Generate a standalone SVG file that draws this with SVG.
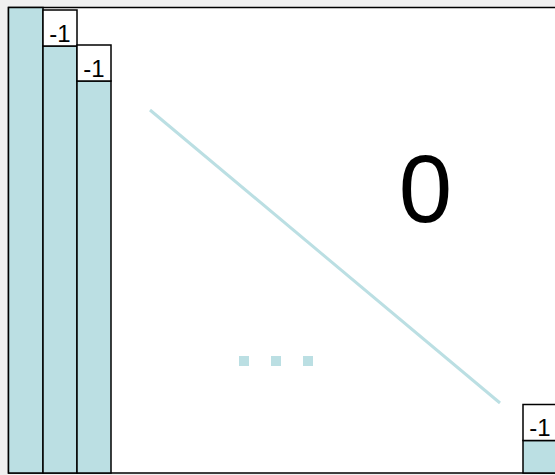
<svg xmlns="http://www.w3.org/2000/svg" width="555" height="475" viewBox="0 0 555 475">
<style>
.col{fill:#bbdfe3;stroke:#000;stroke-width:1.5}
.box{fill:#fff;stroke:#000;stroke-width:1.5}
.lbl{font-family:"Liberation Sans",Arial,sans-serif;font-size:24px;fill:#000;text-anchor:middle}
.dot{fill:#bbdfe3}
</style>
<rect x="0" y="0" width="555" height="475" fill="#f0f0f0"/>
<rect id="matrix" x="8.5" y="7.5" width="560" height="465.5" fill="#fff" stroke="#000" stroke-width="1.5"/>
<g id="col1"><rect class="col" x="8.5" y="7.5" width="34.5" height="465.5"/></g>
<g id="col2">
<rect class="col" x="43" y="46" width="34" height="427"/>
<rect class="box" x="43" y="10" width="34" height="36"/>
<text class="lbl" x="60" y="42">-1</text>
</g>
<g id="col3">
<rect class="col" x="77" y="81" width="34" height="392"/>
<rect class="box" x="77" y="45" width="34" height="36"/>
<text class="lbl" x="94" y="77">-1</text>
</g>
<g id="col4">
<rect class="col" x="523" y="440.5" width="40" height="32.5"/>
<rect class="box" x="523" y="404.5" width="40" height="36"/>
<text class="lbl" x="540" y="436">-1</text>
</g>
<g id="connectors">
<line x1="150" y1="110" x2="500" y2="403" stroke="#bbdfe3" stroke-width="3"/>
</g>
<g id="dots">
<rect class="dot" x="239" y="356" width="10" height="10"/>
<rect class="dot" x="271" y="356" width="10" height="10"/>
<rect class="dot" x="303" y="356" width="10" height="10"/>
</g>
<text x="425.5" y="222" font-family="Liberation Sans,Arial,sans-serif" font-size="96" text-anchor="middle" fill="#000">0</text>
</svg>
